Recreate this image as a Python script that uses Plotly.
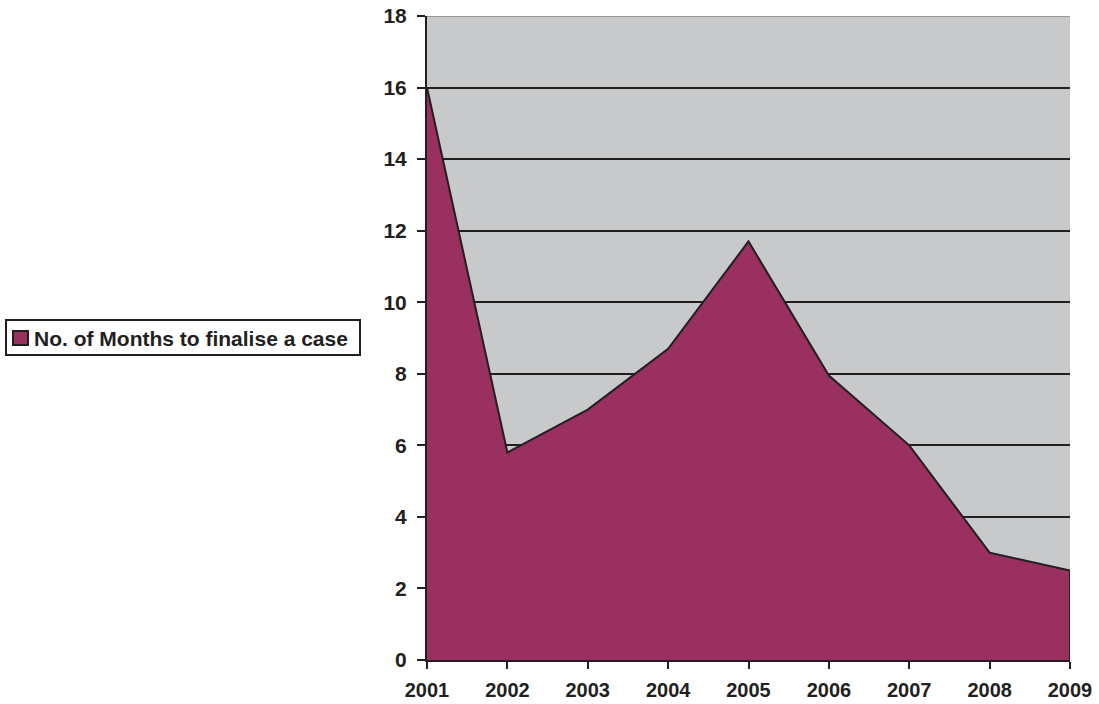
import plotly.graph_objects as go

years = [2001, 2002, 2003, 2004, 2005, 2006, 2007, 2008, 2009]
months = [16.0, 5.8, 7.0, 8.7, 11.7, 7.95, 6.0, 3.0, 2.5]
series_name = "No. of Months to finalise a case"
y_ticks = [0, 2, 4, 6, 8, 10, 12, 14, 16, 18]

FILL = "#993060"
DARK = "#231f20"
W, H = 1099, 704
ML, MR, MT, MB = 427, 29, 16, 44
PW, PH = W - ML - MR, H - MT - MB


def px(x):
    return (x - ML) / PW


def py(y):
    return (H - MB - y) / PH


fig = go.Figure()
fig.add_trace(go.Scatter(
    x=years, y=months, name=series_name, mode="lines",
    fill="tozeroy", fillcolor=FILL,
    line=dict(color=DARK, width=2),
    showlegend=False,
))
# closing right edge of the area
fig.add_trace(go.Scatter(
    x=[years[-1], years[-1]], y=[0, months[-1]], mode="lines",
    line=dict(color=DARK, width=2), showlegend=False, hoverinfo="skip",
))

# top border of plot area
fig.add_shape(type="line", xref="paper", yref="y", x0=0, x1=1, y0=18, y1=18,
              line=dict(color="#999999", width=2))

# legend drawn manually
fig.add_shape(type="rect", xref="paper", yref="paper",
              x0=px(6), x1=px(360), y0=py(355), y1=py(320),
              line=dict(color=DARK, width=2), fillcolor="white")
fig.add_shape(type="rect", xref="paper", yref="paper",
              x0=px(13), x1=px(28), y0=py(345), y1=py(331),
              line=dict(color=DARK, width=2), fillcolor=FILL)
fig.add_annotation(xref="paper", yref="paper", x=px(32), y=py(338),
                   xanchor="left", yanchor="middle", showarrow=False,
                   text=f"<b>{series_name}</b>",
                   font=dict(family="Liberation Sans, Arial, sans-serif", size=21, color=DARK))

font = dict(family="Liberation Sans, Arial, sans-serif", size=21, color=DARK)

fig.update_layout(
    width=W, height=H,
    margin=dict(l=ML, r=MR, t=MT, b=MB),
    paper_bgcolor="white", plot_bgcolor="#c8c9cb",
    font=font,
    showlegend=False,
    xaxis=dict(range=[2001, 2009], tickvals=years, ticktext=[f"<b>{y}</b>" for y in years],
               showgrid=False, zeroline=False, showline=True, linecolor=DARK, linewidth=2,
               ticks="outside", ticklen=7, tickwidth=2, tickcolor=DARK,
               tickfont=dict(size=20), automargin=False, ticklabelstandoff=4),
    yaxis=dict(range=[0, 18], tickvals=y_ticks, ticktext=[f"<b>{v}</b>" for v in y_ticks],
               showgrid=True, gridcolor=DARK, gridwidth=2, zeroline=False,
               showline=True, linecolor=DARK, linewidth=2,
               ticks="outside", ticklen=8, tickwidth=2, tickcolor=DARK,
               tickfont=dict(size=21), automargin=False, ticklabelstandoff=6),
)

fig.write_html("out.html")
